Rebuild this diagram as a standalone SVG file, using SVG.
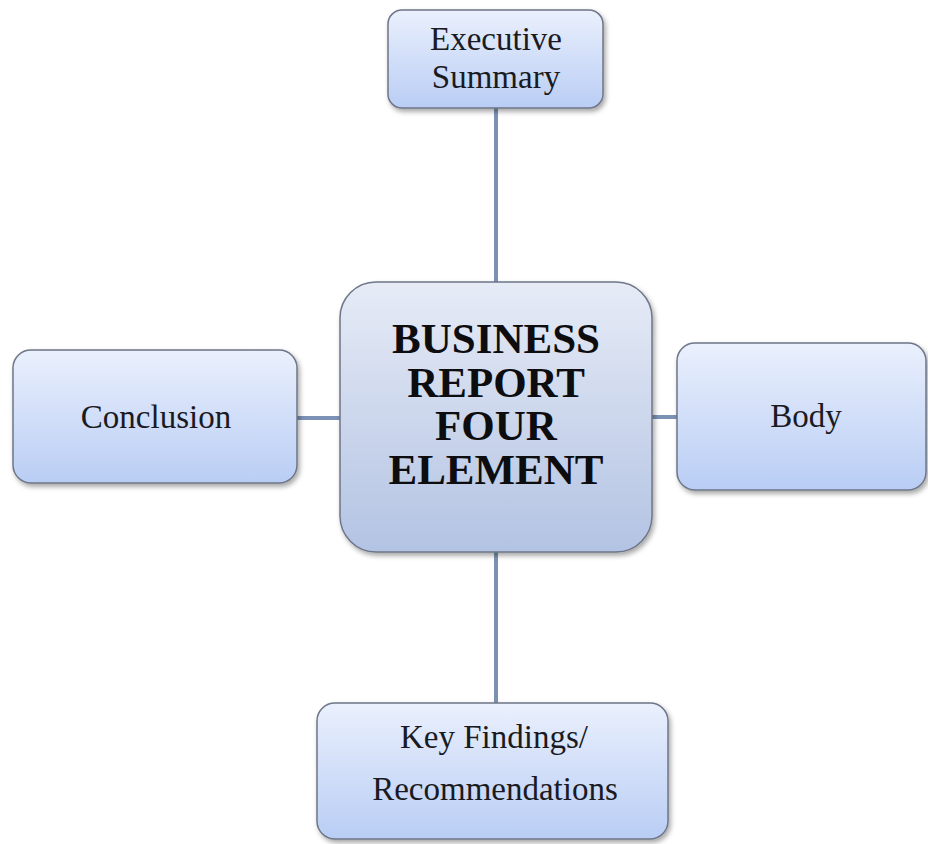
<svg xmlns="http://www.w3.org/2000/svg" width="928" height="844" viewBox="0 0 928 844">
<defs>
<linearGradient id="g" x1="0" y1="0" x2="0" y2="1">
<stop offset="0" stop-color="#eaf0fd"/>
<stop offset="1" stop-color="#b9cdf4"/>
</linearGradient>
<linearGradient id="gc" x1="0" y1="0" x2="0" y2="1">
<stop offset="0" stop-color="#e6ebf6"/>
<stop offset="1" stop-color="#b3c3e3"/>
</linearGradient>
<filter id="sh" x="-10%" y="-10%" width="125%" height="130%">
<feDropShadow dx="2" dy="3" stdDeviation="2.5" flood-color="#000" flood-opacity="0.35"/>
</filter>
</defs>
<style>
.box{fill:url(#g);stroke:#6e7687;stroke-width:1.5;filter:url(#sh)}
.cbox{fill:url(#gc);stroke:#6e7687;stroke-width:1.5;filter:url(#sh)}
.t{font-family:"Liberation Serif","DejaVu Serif",serif;font-size:33px;fill:#1a1a22;text-anchor:middle}
.b{font-family:"Liberation Serif","DejaVu Serif",serif;font-size:43px;font-weight:bold;fill:#0d0d10;text-anchor:middle}
.c{stroke:#7b92b6;stroke-width:4;fill:none}
</style>
<rect width="928" height="844" fill="#ffffff"/>
<g id="connectors">
<line class="c" x1="496" y1="108" x2="496" y2="283"/>
<line class="c" x1="496" y1="552" x2="496" y2="704"/>
<line class="c" x1="297" y1="418" x2="341" y2="418"/>
<line class="c" x1="652" y1="417" x2="678" y2="417"/>
</g>
<g id="executive-summary">
<rect class="box" x="388" y="10" width="215" height="98" rx="14"/>
<text class="t" x="496" y="50">Executive</text>
<text class="t" x="496" y="88">Summary</text>
</g>
<g id="center">
<rect class="cbox" x="340" y="282" width="312" height="270" rx="36"/>
<text class="b" x="496" y="353">BUSINESS</text>
<text class="b" x="496" y="397">REPORT</text>
<text class="b" x="496" y="440">FOUR</text>
<text class="b" x="496" y="484">ELEMENT</text>
</g>
<g id="conclusion">
<rect class="box" x="13" y="350" width="284" height="133" rx="18"/>
<text class="t" x="156" y="428">Conclusion</text>
</g>
<g id="body">
<rect class="box" x="677" y="343" width="249" height="147" rx="18"/>
<text class="t" x="806" y="427">Body</text>
</g>
<g id="key-findings">
<rect class="box" x="317" y="703" width="351" height="136" rx="18"/>
<text class="t" x="494" y="748">Key Findings/</text>
<text class="t" x="495" y="800">Recommendations</text>
</g>
</svg>
